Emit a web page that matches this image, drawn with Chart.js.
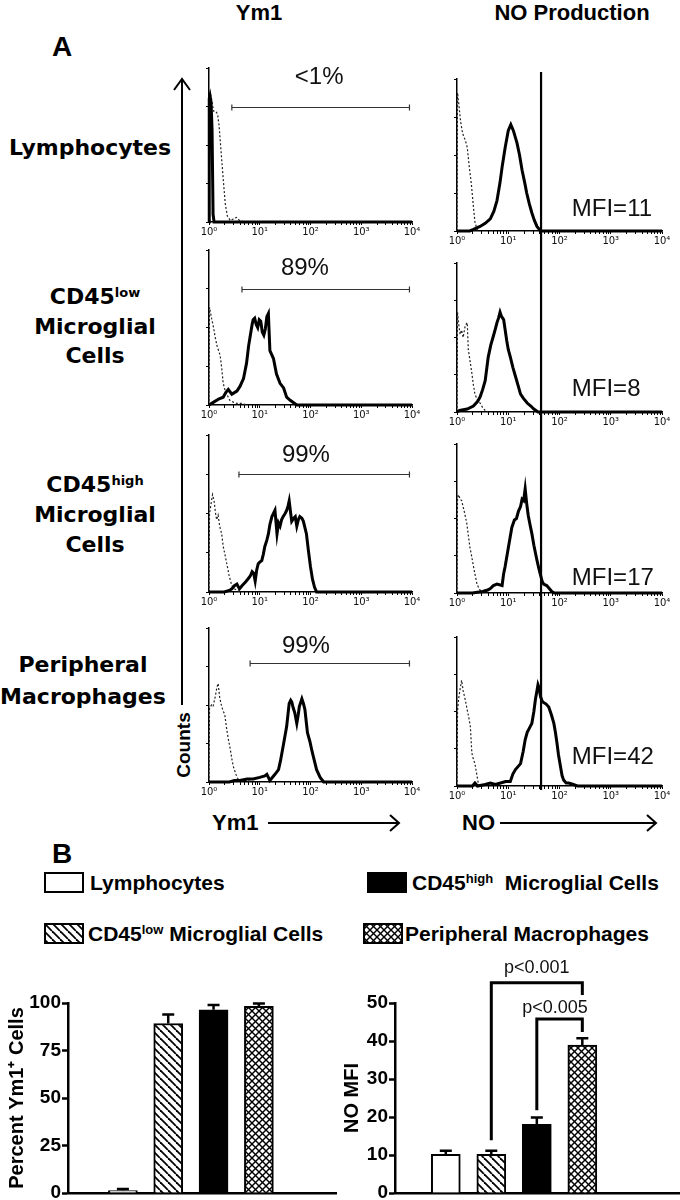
<!DOCTYPE html>
<html>
<head>
<meta charset="utf-8">
<script src="https://cdn.jsdelivr.net/npm/chart.js@4.4.1/dist/chart.umd.min.js"></script>
<style>
  html, body { margin: 0; padding: 0; background: #fff; }
  #page { position: relative; width: 680px; height: 1200px; overflow: hidden;
          font-family: "Liberation Sans", Arial, sans-serif; color: #000; }
  #page canvas { position: absolute; }
  .t { position: absolute; white-space: nowrap; line-height: 1; }
  .c { transform: translate(-50%, -50%); }
  .b { font-weight: bold; }
  .rowlab { position: absolute; width: 180px; text-align: center; white-space: nowrap;
            font-family: "DejaVu Sans", sans-serif; font-weight: bold; font-size: 22px; }
  .rowlab sup { font-size: 13px; line-height: 0; vertical-align: 7px; }
  .leg { position: absolute; white-space: nowrap; font-weight: bold; font-size: 21px; line-height: 20px; }
  .leg sup { font-size: 13px; line-height: 0; vertical-align: 7px; }
  svg { position: absolute; left: 0; top: 0; }
</style>
</head>
<body>
<div id="page">
  <div class="t c b" style="left:259px; top:13px; font-size:22px;">Ym1</div>
  <div class="t c b" style="left:572px; top:13px; font-size:22px;">NO Production</div>
  <div class="t b" style="left:52px; top:33px; font-size:28px;">A</div>

  <div class="rowlab" style="left:0px; top:133px; line-height:30px;">Lymphocytes</div>
  <div class="rowlab" style="left:5px; top:282px; line-height:29.5px;">CD45<sup>low</sup><br>Microglial<br>Cells</div>
  <div class="rowlab" style="left:5px; top:470px; line-height:30px;">CD45<sup>high</sup><br>Microglial<br>Cells</div>
  <div class="rowlab" style="left:-7px; top:649px; line-height:32px;">Peripheral<br>Macrophages</div>
  <div class="t c b" style="left:183px; top:745px; font-size:19px; transform:translate(-50%,-50%) rotate(-90deg);">Counts</div>

  <div class="t b" style="left:212px; top:812px; font-size:22px;">Ym1</div>
  <div class="t b" style="left:462px; top:812px; font-size:22px;">NO</div>
  <div class="t b" style="left:52px; top:840px; font-size:28px;">B</div>

  <svg width="680" height="1200">
    <g stroke="#000" stroke-width="2" fill="none">
      <line x1="182" y1="705" x2="182" y2="80"/>
      <polyline points="174,90 182,79 190,90"/>
      <line x1="268" y1="823" x2="398" y2="823"/>
      <polyline points="390,815 399,823 390,831"/>
      <line x1="500" y1="823" x2="655" y2="823"/>
      <polyline points="647,815 656,823 647,831"/>
    </g>
  </svg>
</div>

<script>
// ---- Panel A: flow histograms (x = log10 fluorescence, y = % of panel height) ----
// solid = Ym1 / NO stain, dotted = isotype control
const YM1_LYM_SOLID = [[0,0],[0.005,80],[0.02,82],[0.04,78],[0.06,60],[0.08,5],[0.1,0],[4,0]];
const YM1_LYM_ISO = [[0,0],[0.01,78],[0.03,83],[0.06,78],[0.09,72],[0.13,72],[0.17,70],[0.2,62],[0.24,45],
  [0.28,28],[0.32,12],[0.36,4],[0.42,1],[0.48,2],[0.54,3],[0.6,1],[0.7,0]];
const NO_LYM_SOLID = [[0,0],[0.25,0],[0.32,1],[0.45,3],[0.55,5],[0.65,8],[0.72,13],[0.78,20],[0.84,32],[0.88,42],
  [0.94,55],[1.0,66],[1.05,70],[1.1,66],[1.17,58],[1.22,50],[1.27,40],[1.32,32],[1.36,25],[1.41,18],[1.46,12],
  [1.51,7],[1.56,3],[1.63,0],[4,0]];
const NO_LYM_ISO = [[0,0],[0.01,91],[0.04,82],[0.07,72],[0.1,66],[0.13,62],[0.16,60],[0.2,55],[0.24,42],
  [0.28,31],[0.32,16],[0.35,6],[0.39,1],[0.45,0]];

const YM1_LOW_SOLID = [[0,0],[0.1,2],[0.2,4],[0.28,5],[0.33,8],[0.38,10],[0.45,7],[0.5,8],[0.55,9],[0.61,12],
  [0.68,17],[0.74,27],[0.78,38],[0.81,44],[0.85,52],[0.87,55],[0.9,56],[0.93,52],[0.96,50],[0.99,55],[1.02,54],
  [1.05,47],[1.08,45],[1.11,49],[1.14,57],[1.17,59],[1.2,35],[1.27,30],[1.33,20],[1.4,14],[1.47,11],[1.53,5],
  [1.6,3],[1.73,0],[4,0]];
const YM1_LOW_ISO = [[0,0],[0.01,63],[0.05,56],[0.09,50],[0.12,44],[0.16,38],[0.22,32],[0.25,24],[0.28,14],
  [0.32,9],[0.35,7],[0.41,3],[0.47,2],[0.55,1],[0.65,1],[0.75,0]];
const NO_LOW_SOLID = [[0,0],[0.05,1],[0.2,2],[0.32,4],[0.4,7],[0.45,10],[0.5,15],[0.55,21],[0.61,37],[0.66,45],
  [0.71,51],[0.75,56],[0.78,60],[0.81,63],[0.84,67],[0.87,64],[0.91,62],[0.94,55],[0.97,48],[1.0,42],[1.04,37],
  [1.09,30],[1.14,24],[1.19,18],[1.24,12],[1.3,9],[1.37,6],[1.44,4],[1.5,2],[1.58,0],[4,0]];
const NO_LOW_ISO = [[0,0],[0.01,67],[0.03,60],[0.06,52],[0.09,55],[0.12,50],[0.16,58],[0.2,60],[0.22,42],
  [0.26,33],[0.29,26],[0.32,18],[0.35,12],[0.4,8],[0.45,6],[0.5,3],[0.55,1],[0.6,0]];

const YM1_HIGH_SOLID = [[0,0],[0.3,0],[0.4,1],[0.45,2],[0.5,4],[0.55,5],[0.6,2],[0.65,4],[0.71,6],[0.76,8],
  [0.81,10],[0.85,13],[0.88,12],[0.91,7],[0.94,14],[0.97,18],[1.0,19],[1.04,20],[1.07,24],[1.1,29],[1.14,33],
  [1.17,37],[1.2,43],[1.24,48],[1.27,50],[1.3,52],[1.34,37],[1.37,44],[1.4,42],[1.43,46],[1.46,48],[1.5,50],
  [1.53,52],[1.56,55],[1.58,58],[1.61,50],[1.63,45],[1.67,47],[1.7,48],[1.73,42],[1.76,46],[1.79,48],[1.83,47],
  [1.86,45],[1.89,41],[1.92,37],[1.96,26],[2.0,16],[2.04,8],[2.08,3],[2.12,0],[4,0]];
const YM1_HIGH_ISO = [[0,0],[0.01,50],[0.04,56],[0.07,62],[0.1,58],[0.13,50],[0.15,46],[0.18,49],[0.21,42],
  [0.25,37],[0.28,29],[0.32,23],[0.35,18],[0.4,10],[0.45,4],[0.5,2],[0.55,1],[0.62,0]];
const NO_HIGH_SOLID = [[0,0],[0.3,0],[0.5,1],[0.6,2],[0.65,3],[0.71,5],[0.78,6],[0.88,5],[0.91,13],[0.94,18],
  [0.97,24],[1.02,34],[1.07,44],[1.12,49],[1.16,50],[1.2,55],[1.24,58],[1.27,63],[1.3,62],[1.33,70],[1.36,60],
  [1.39,52],[1.43,45],[1.46,40],[1.5,32],[1.53,27],[1.56,22],[1.6,16],[1.63,12],[1.66,8],[1.69,6],[1.75,5],
  [1.8,3],[1.85,1],[1.9,0],[4,0]];
const NO_HIGH_ISO = [[0,0],[0.01,64],[0.03,66],[0.06,63],[0.09,62],[0.14,55],[0.19,47],[0.25,31],[0.29,24],
  [0.32,18],[0.36,11],[0.39,6],[0.43,3],[0.47,1],[0.52,0]];

const YM1_MAC_SOLID = [[0,0],[0.4,0],[0.5,1],[0.61,1],[0.75,2],[0.87,2],[1.0,3],[1.1,4],[1.14,5],[1.2,1],[1.3,5],
  [1.37,8],[1.41,14],[1.46,23],[1.53,36],[1.56,45],[1.58,51],[1.61,53],[1.63,52],[1.66,48],[1.69,45],[1.73,38],
  [1.76,44],[1.78,49],[1.81,52],[1.83,54],[1.86,51],[1.89,47],[1.92,38],[1.94,32],[1.99,26],[2.03,20],[2.06,16],
  [2.12,8],[2.19,3],[2.26,0],[4,0]];
const YM1_MAC_ISO = [[0,0],[0.01,48],[0.05,50],[0.08,49],[0.12,55],[0.16,62],[0.18,64],[0.21,55],[0.25,49],
  [0.28,46],[0.31,44],[0.35,34],[0.38,28],[0.41,23],[0.45,15],[0.48,10],[0.53,5],[0.57,2],[0.65,1],[0.75,1],[0.85,0]];
const NO_MAC_SOLID = [[0,0],[0.3,0],[0.35,2],[0.4,0],[0.55,1],[0.65,2],[0.75,1],[0.85,2],[0.95,3],[1.04,3],
  [1.09,8],[1.14,11],[1.19,13],[1.24,15],[1.29,23],[1.33,31],[1.37,36],[1.4,38],[1.43,40],[1.46,42],[1.5,50],
  [1.53,58],[1.56,64],[1.58,68],[1.6,66],[1.63,60],[1.66,57],[1.69,56],[1.74,55],[1.79,53],[1.84,48],[1.89,42],
  [1.92,36],[1.95,29],[1.98,21],[2.02,13],[2.05,7],[2.08,4],[2.13,2],[2.18,2],[2.27,1],[2.35,0],[4,0]];
const NO_MAC_ISO = [[0,0],[0.01,50],[0.03,58],[0.06,65],[0.09,71],[0.12,64],[0.16,58],[0.2,51],[0.23,46],
  [0.26,40],[0.29,22],[0.32,18],[0.35,15],[0.39,7],[0.42,1],[0.47,0]];

const DECADE_LABELS = ['10\u2070', '10\u00b9', '10\u00b2', '10\u00b3', '10\u2074'];
const NO_GATE_LOG = 1.64;
const YM1_GATES = [[0.45, 3.95, 75], [0.65, 3.95, 75], [0.59, 3.95, 75], [0.81, 3.95, 77]];
const YM1_PERCENT = ['<1%', '89%', '99%', '99%'];
const YM1_PERCENT_AT = [[2.17, 94], [1.89, 88], [1.91, 87], [1.91, 88]];
const NO_MFI_TEXT = ['MFI=11', 'MFI=8', 'MFI=17', 'MFI=42'];
const NO_MFI_AT = [[2.24, 14], [2.24, 15], [2.24, 10], [2.24, 19]];

// ---- Panel B: bar charts ----
const CATEGORIES = ['Lymphocytes', 'CD45<sup>low</sup> Microglial Cells',
                    'CD45<sup>high</sup>&nbsp; Microglial Cells', 'Peripheral Macrophages'];
const PCT_YM1 = [1.3, 89.2, 96.4, 98.2];
const PCT_YM1_ERR = [0.8, 4.7, 2.5, 1.6];
const NO_MFI = [10.2, 10.2, 18.1, 38.9];
const NO_MFI_ERR = [0.9, 0.9, 1.8, 1.8];
const NO_BRACKETS = [
  { a: 1, b: 3, top: 55.3, dropA: 13.9, dropB: 52.1, text: 'p<0.001', tx: 2.0, ty: 59.2 },
  { a: 2, b: 3, top: 45.8, dropA: 21.8, dropB: 42.4, text: 'p<0.005', tx: 2.4, ty: 48.7 }
];

Chart.defaults.font.family = '"Liberation Sans", Arial, sans-serif';
Chart.defaults.color = '#000';

const page = document.getElementById('page');
const toXY = pts => pts.map(p => ({ x: p[0], y: p[1] }));

function addCanvas(left, top, w, h) {
    const cv = document.createElement('canvas');
    cv.width = w; cv.height = h;
    cv.style.left = left + 'px'; cv.style.top = top + 'px';
    page.appendChild(cv);
    return cv;
}

// gates, labels, minor decade ticks and the NO threshold line
const panelMarks = {
    id: 'panelMarks',
    afterDraw(chart, args, o) {
        const ctx = chart.ctx, xs = chart.scales.x, ys = chart.scales.y, a = chart.chartArea;
        ctx.save();
        ctx.strokeStyle = '#000';
        ctx.lineWidth = 1;
        for (let d = 0; d < 4; d++) {
            for (let k = 2; k < 10; k++) {
                const px = Math.round(xs.getPixelForValue(d + Math.log10(k))) + 0.5;
                ctx.beginPath(); ctx.moveTo(px, a.bottom); ctx.lineTo(px, a.bottom + 3); ctx.stroke();
            }
        }
        if (o.gate) {
            const x0 = xs.getPixelForValue(o.gate[0]), x1 = xs.getPixelForValue(o.gate[1]);
            const y = Math.round(ys.getPixelForValue(o.gate[2])) + 0.5;
            ctx.strokeStyle = '#333'; ctx.lineWidth = 1.2;
            ctx.beginPath();
            ctx.moveTo(x0, y); ctx.lineTo(x1, y);
            ctx.moveTo(x0, y - 3); ctx.lineTo(x0, y + 3);
            ctx.moveTo(x1, y - 3); ctx.lineTo(x1, y + 3);
            ctx.stroke();
        }
        if (o.thr !== undefined) {
            const x = xs.getPixelForValue(o.thr);
            const y0 = o.thrTop === 'chart' ? a.top - 7 : 0;
            const y1 = o.thrBottom === 'base' ? a.bottom + 4 : chart.height;
            ctx.strokeStyle = '#000'; ctx.lineWidth = 2.2;
            ctx.beginPath(); ctx.moveTo(x, y0); ctx.lineTo(x, y1); ctx.stroke();
        }
        if (o.label) {
            ctx.fillStyle = '#111';
            ctx.font = '24px "Liberation Sans", Arial, sans-serif';
            ctx.textAlign = o.align || 'center';
            ctx.textBaseline = 'middle';
            ctx.fillText(o.label, xs.getPixelForValue(o.labelAt[0]), ys.getPixelForValue(o.labelAt[1]));
        }
        ctx.restore();
    }
};

function histChart(p) {
    const cv = addCanvas(p.left, p.top, p.w, p.h);
    return new Chart(cv, {
        type: 'line',
        data: {
            datasets: [
                { data: toXY(p.stain), borderColor: '#000', borderWidth: 3, pointRadius: 0,
                  fill: false, tension: 0, clip: 6, order: 1 },
                { data: toXY(p.iso), borderColor: '#222', borderWidth: 1.2, borderDash: [2, 2],
                  pointRadius: 0, fill: false, tension: 0, clip: 6, order: 2 }
            ]
        },
        options: {
            responsive: false, animation: false, events: [],
            layout: { padding: { top: p.padTop, left: 8, right: p.padR, bottom: 0 } },
            plugins: { legend: { display: false }, tooltip: { enabled: false }, panelMarks: p.marks },
            scales: {
                x: {
                    type: 'linear', min: 0, max: 4,
                    afterFit: s => { s.height = p.xH; s.paddingLeft = 0; s.paddingRight = 0; },
                    ticks: { stepSize: 1, autoSkip: false, maxRotation: 0, padding: 1, color: '#111',
                             font: { family: '"DejaVu Sans", sans-serif', size: 10 },
                             callback: v => DECADE_LABELS[v] },
                    grid: { drawOnChartArea: false, tickLength: 3, color: '#000' },
                    border: { color: '#000', width: 1.5 }
                },
                y: {
                    min: 0, max: 100,
                    afterFit: s => { s.width = 6; s.paddingTop = 0; s.paddingBottom = 0; },
                    ticks: { stepSize: 25, display: false },
                    grid: { drawOnChartArea: false, tickLength: 3, color: '#000' },
                    border: { color: '#000', width: 1.5 }
                }
            }
        },
        plugins: [panelMarks]
    });
}

const YM1_STAIN = [YM1_LYM_SOLID, YM1_LOW_SOLID, YM1_HIGH_SOLID, YM1_MAC_SOLID];
const YM1_ISO = [YM1_LYM_ISO, YM1_LOW_ISO, YM1_HIGH_ISO, YM1_MAC_ISO];
const NO_STAIN = [NO_LYM_SOLID, NO_LOW_SOLID, NO_HIGH_SOLID, NO_MAC_SOLID];
const NO_ISO = [NO_LYM_ISO, NO_LOW_ISO, NO_HIGH_ISO, NO_MAC_ISO];

// left column (Ym1)
const leftRows = [[58, 180], [240, 181], [425, 183], [618, 180]];
leftRows.forEach((r, i) => histChart({
    left: 195, top: r[0], w: 225, h: r[1], padTop: 10, padR: 8, xH: 16,
    stain: YM1_STAIN[i], iso: YM1_ISO[i],
    marks: { gate: YM1_GATES[i], label: YM1_PERCENT[i], labelAt: YM1_PERCENT_AT[i] }
}));

// right column (NO) - canvases touch so the threshold line runs through
const rightRows = [[72, 178, 7, 'chart', 'canvas'], [250, 181, 13, 'canvas', 'canvas'],
                   [431, 181, 13, 'canvas', 'canvas'], [612, 193, 25, 'canvas', 'base']];
rightRows.forEach((r, i) => histChart({
    left: 443, top: r[0], w: 230, h: r[1], padTop: r[2], padR: 11, xH: 19,
    stain: NO_STAIN[i], iso: NO_ISO[i],
    marks: { thr: NO_GATE_LOG, thrTop: r[3], thrBottom: r[4],
             label: NO_MFI_TEXT[i], labelAt: NO_MFI_AT[i], align: 'left' }
}));

// ---- fills ----
function hatchPattern(ctx) {
    const t = document.createElement('canvas');
    t.width = t.height = 8;
    const g = t.getContext('2d');
    g.fillStyle = '#fff'; g.fillRect(0, 0, 8, 8);
    g.strokeStyle = '#000'; g.lineWidth = 1.8;
    for (const o of [-8, 0, 8]) { g.beginPath(); g.moveTo(o, 0); g.lineTo(o + 8, 8); g.stroke(); }
    return ctx.createPattern(t, 'repeat');
}
function crossPattern(ctx) {
    const t = document.createElement('canvas');
    t.width = t.height = 7;
    const g = t.getContext('2d');
    g.fillStyle = '#fff'; g.fillRect(0, 0, 7, 7);
    g.strokeStyle = '#000'; g.lineWidth = 1.4;
    for (const o of [-7, 0, 7]) {
        g.beginPath(); g.moveTo(o, 0); g.lineTo(o + 7, 7); g.stroke();
        g.beginPath(); g.moveTo(o, 7); g.lineTo(o + 7, 0); g.stroke();
    }
    return ctx.createPattern(t, 'repeat');
}
const fillsFor = ctx => ['#fff', hatchPattern(ctx), '#000', crossPattern(ctx)];

// ---- legend ----
const LEGEND_POS = [[44, 872, 90], [44, 923, 88], [367, 872, 412], [363, 923, 405]];
CATEGORIES.forEach((name, i) => {
    const [bx, by, tx] = LEGEND_POS[i];
    const cv = addCanvas(bx, by, 40, 21);
    const ctx = cv.getContext('2d');
    ctx.fillStyle = fillsFor(ctx)[i];
    ctx.fillRect(0, 0, 40, 21);
    ctx.strokeStyle = '#000'; ctx.lineWidth = 2;
    ctx.strokeRect(1, 1, 38, 19);
    const d = document.createElement('div');
    d.className = 'leg';
    d.style.left = tx + 'px'; d.style.top = (by + 1) + 'px';
    d.innerHTML = name;
    page.appendChild(d);
});

// ---- bar charts ----
const barExtras = {
    id: 'barExtras',
    afterDatasetsDraw(chart, args, o) {
        const ctx = chart.ctx, xs = chart.scales.x, ys = chart.scales.y;
        ctx.save();
        ctx.strokeStyle = '#000';
        ctx.lineWidth = 2.5;
        o.values.forEach((v, i) => {
            const x = xs.getPixelForValue(i);
            const y0 = ys.getPixelForValue(v), y1 = ys.getPixelForValue(v + o.errors[i]);
            ctx.beginPath();
            ctx.moveTo(x, y0); ctx.lineTo(x, y1);
            ctx.moveTo(x - 6, y1); ctx.lineTo(x + 6, y1);
            ctx.stroke();
        });
        ctx.lineWidth = 3;
        ctx.fillStyle = '#111';
        ctx.font = '18px "Liberation Sans", Arial, sans-serif';
        ctx.textAlign = 'center';
        ctx.textBaseline = 'middle';
        (o.brackets || []).forEach(b => {
            const xa = xs.getPixelForValue(b.a), xb = xs.getPixelForValue(b.b);
            ctx.beginPath();
            ctx.moveTo(xa, ys.getPixelForValue(b.dropA));
            ctx.lineTo(xa, ys.getPixelForValue(b.top));
            ctx.lineTo(xb, ys.getPixelForValue(b.top));
            ctx.lineTo(xb, ys.getPixelForValue(b.dropB));
            ctx.stroke();
            ctx.fillText(b.text, xs.getPixelForValue(b.tx), ys.getPixelForValue(b.ty));
        });
        ctx.restore();
    }
};

function barChart(p) {
    const cv = addCanvas(p.left, p.top, p.w, p.h);
    const fills = fillsFor(cv.getContext('2d'));
    return new Chart(cv, {
        type: 'bar',
        data: {
            datasets: [{
                data: p.values.map((v, i) => ({ x: i, y: v })),
                backgroundColor: fills, borderColor: '#000', borderWidth: 2,
                barThickness: 29, borderSkipped: 'start'
            }]
        },
        options: {
            responsive: false, animation: false, events: [],
            layout: { padding: { top: p.padTop, left: 0, right: p.padR, bottom: 0 } },
            plugins: { legend: { display: false }, tooltip: { enabled: false },
                       barExtras: { values: p.values, errors: p.errors, brackets: p.brackets } },
            scales: {
                x: {
                    type: 'linear', min: p.xMin, max: p.xMax,
                    afterFit: s => { s.height = 7; s.paddingLeft = 0; s.paddingRight = 0; },
                    ticks: { display: false }, grid: { display: false },
                    border: { color: '#000', width: 2.5 }
                },
                y: {
                    min: 0, max: p.yMax,
                    afterFit: s => { s.width = p.yW; s.paddingTop = 0; s.paddingBottom = 0; },
                    ticks: { stepSize: p.step, padding: 1, color: '#000',
                             font: { size: 19, weight: 'bold' } },
                    grid: { drawOnChartArea: false, tickLength: 6, tickWidth: 2.5, tickColor: '#000' },
                    border: { color: '#000', width: 2.5 },
                    title: { display: true, text: p.title, color: '#000',
                             font: { size: 20, weight: 'bold' }, padding: { top: p.titlePad, bottom: 0 } }
                }
            }
        },
        plugins: [barExtras]
    });
}

barChart({ left: 0, top: 990, w: 340, h: 210, padTop: 13, padR: 4, yW: 68, titlePad: 5,
           xMin: -0.62, xMax: 4.11, yMax: 100, step: 25, title: 'Percent Ym1\u207a Cells',
           values: PCT_YM1, errors: PCT_YM1_ERR });
barChart({ left: 340, top: 950, w: 340, h: 250, padTop: 53, padR: 0, yW: 55, titlePad: 0,
           xMin: -0.49, xMax: 4.52, yMax: 50, step: 10, title: 'NO MFI',
           values: NO_MFI, errors: NO_MFI_ERR, brackets: NO_BRACKETS });
</script>
</body>
</html>
